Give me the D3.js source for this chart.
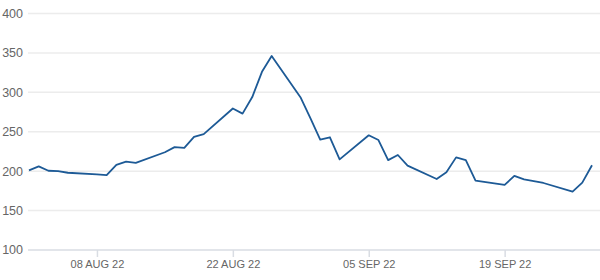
<!DOCTYPE html>
<html>
<head>
<meta charset="utf-8">
<script src="https://cdn.jsdelivr.net/npm/d3@7"></script>
<style>
  body { margin: 0; background: #fff; }
  svg { display: block; font-family: "Liberation Sans", Arial, sans-serif; }
</style>
</head>
<body>
<div id="chart"></div>
<script>
// Trading days (weekdays only) and the series values
const dates = [
    "2022-08-01", "2022-08-02", "2022-08-03", "2022-08-04", "2022-08-05",
    "2022-08-08", "2022-08-09", "2022-08-10", "2022-08-11", "2022-08-12",
    "2022-08-15", "2022-08-16", "2022-08-17", "2022-08-18", "2022-08-19",
    "2022-08-22", "2022-08-23", "2022-08-24", "2022-08-25", "2022-08-26",
    "2022-08-29", "2022-08-30", "2022-08-31", "2022-09-01", "2022-09-02",
    "2022-09-05", "2022-09-06", "2022-09-07", "2022-09-08", "2022-09-09",
    "2022-09-12", "2022-09-13", "2022-09-14", "2022-09-15", "2022-09-16",
    "2022-09-19", "2022-09-20", "2022-09-21", "2022-09-22", "2022-09-23",
    "2022-09-26", "2022-09-27", "2022-09-28"
];
const values = [
    201, 206, 200.5, 200, 198,
    196, 195, 208, 212, 210.5,
    224, 230.5, 229.5, 243.5, 247,
    279.5, 273, 294, 326, 346,
    293, 267, 240, 243, 215,
    245.5, 239.5, 214, 220.5, 207,
    190, 198.5, 217.5, 214, 188,
    182.5, 194, 189.5, 187.5, 185,
    174, 185.5, 207.5
];

// Axis ticks
const yTicks = [100, 150, 200, 250, 300, 350, 400];
const xTickDates = ["2022-08-08", "2022-08-22", "2022-09-05", "2022-09-19"];

const width = 600;
const height = 280;

const parse = d3.timeParse("%Y-%m-%d");
const data = dates.map((d, i) => ({date: parse(d), value: values[i]}));

const svg = d3.select("#chart").append("svg")
    .attr("width", width)
    .attr("height", height);

const x = d3.scaleTime()
    .domain([parse(dates[0]), parse(dates[dates.length - 1])])
    .range([29, 592]);

const y = d3.scaleLinear()
    .domain([100, 400])
    .range([250, 13.5]);

// Horizontal gridlines
svg.append("g")
    .selectAll("line")
    .data(yTicks)
    .enter()
    .append("line")
    .attr("x1", 28)
    .attr("x2", width)
    .attr("y1", d => y(d))
    .attr("y2", d => y(d))
    .attr("stroke", d => d === 100 ? "#d9dde3" : "#ececec")
    .attr("stroke-width", 1.5);

// Y labels
svg.append("g")
    .selectAll("text")
    .data(yTicks)
    .enter()
    .append("text")
    .attr("x", 23)
    .attr("y", d => y(d))
    .attr("dy", "0.35em")
    .attr("text-anchor", "end")
    .attr("fill", "#666")
    .style("font-size", "12.5px")
    .text(d => d);

// X axis ticks and labels
const xAxis = d3.axisBottom(x)
    .tickValues(xTickDates.map(parse))
    .tickFormat(d => d3.timeFormat("%d %b %y")(d).toUpperCase())
    .tickSize(7)
    .tickPadding(3);

const gx = svg.append("g")
    .attr("transform", "translate(0,250)")
    .call(xAxis);

gx.select(".domain").remove();
gx.selectAll(".tick line").attr("stroke", "#d9dde3").attr("stroke-width", 1.5);
gx.selectAll(".tick text")
    .attr("fill", "#666")
    .style("font-size", "11px")
    .style("font-family", "'Liberation Sans', Arial, sans-serif");

// Line
const line = d3.line()
    .x(d => x(d.date))
    .y(d => y(d.value));

svg.append("path")
    .datum(data)
    .attr("fill", "none")
    .attr("stroke", "#1d5a96")
    .attr("stroke-width", 1.8)
    .attr("stroke-linejoin", "round")
    .attr("d", line);
</script>
</body>
</html>
